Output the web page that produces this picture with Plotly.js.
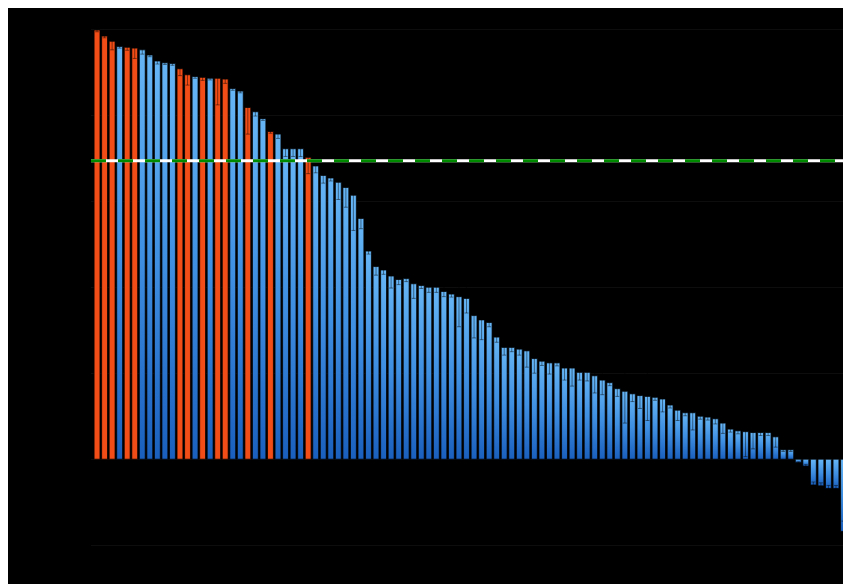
<!DOCTYPE html>
<html>
<head>
<meta charset="utf-8">
<script src="https://cdn.plot.ly/plotly-3.0.1.min.js"></script>
<style>
  html, body { margin: 0; padding: 0; background: #ffffff; overflow: hidden; }
  #chart { position: absolute; left: 8px; top: 8px; width: 835px; height: 576px; }
</style>
</head>
<body>
<svg width="0" height="0" style="position:absolute;left:0;top:0">
  <defs>
    <linearGradient id="blueGrad" x1="0" y1="0" x2="0" y2="1">
      <stop offset="0" stop-color="#66b6f6"/>
      <stop offset="0.5" stop-color="#3f8fe2"/>
      <stop offset="1" stop-color="#1a5fbd"/>
    </linearGradient>
  </defs>
</svg>
<div id="chart"></div>
<script>
// Values (arbitrary units, 10 per gridline)
const values = [
  49.9, 49.2, 48.6, 48.0, 47.9, 47.8, 47.6, 47.0, 46.3, 46.1,
  46.0, 45.4, 44.7, 44.5, 44.4, 44.3, 44.3, 44.2, 43.1, 42.8,
  40.9, 40.4, 39.6, 38.1, 37.8, 36.1, 36.1, 36.1, 35.1, 34.1,
  33.0, 32.7, 32.2, 31.6, 30.7, 28.0, 24.2, 22.4, 22.0, 21.3,
  20.9, 21.0, 20.4, 20.2, 20.0, 20.0, 19.5, 19.2, 18.9, 18.7,
  16.7, 16.2, 15.9, 14.2, 13.0, 13.0, 12.8, 12.6, 11.7, 11.4,
  11.2, 11.2, 10.6, 10.6, 10.1, 10.1, 9.7, 9.2, 8.9, 8.2,
  7.9, 7.6, 7.4, 7.3, 7.2, 7.0, 6.3, 5.7, 5.4, 5.4,
  5.0, 4.9, 4.7, 4.2, 3.5, 3.3, 3.2, 3.1, 3.1, 3.1,
  2.6, 1.1, 1.1, -0.4, -0.8, -3.0, -3.1, -3.4, -3.4, -8.4
];
const errors = [
  0.2, 0.2, 1.0, 0.2, 0.35, 1.2, 0.5, 0.2, 0.35, 0.2,
  0.2, 0.8, 1.2, 0.2, 0.35, 0.2, 3.1, 0.5, 0.2, 0.2,
  3.1, 0.5, 0.2, 0.2, 0.5, 0.9, 0.9, 0.9, 1.9, 0.8,
  0.9, 0.35, 2.0, 2.3, 4.1, 1.2, 0.35, 1.0, 0.5, 1.4,
  0.6, 0.35, 1.7, 0.35, 0.6, 0.6, 0.6, 0.35, 3.5, 1.7,
  2.6, 2.3, 0.5, 0.6, 0.9, 0.5, 0.7, 1.9, 1.7, 0.5,
  1.3, 0.35, 1.4, 2.1, 0.9, 1.0, 2.0, 1.7, 0.35, 0.9,
  3.7, 0.9, 1.5, 2.8, 0.35, 1.5, 0.35, 1.2, 0.35, 2.0,
  0.35, 0.35, 0.6, 1.2, 0.35, 0.35, 2.9, 1.9, 0.35, 0.35,
  1.2, 0.2, 0.2, 0.1, 0.2, 0.35, 0.35, 0.35, 0.35, 1.2
];
// 1 = highlighted (orange) bar
const highlight = [
  1, 1, 1, 0, 1, 1, 0, 0, 0, 0,
  0, 1, 1, 0, 1, 0, 1, 1, 0, 0,
  1, 0, 0, 1, 0, 0, 0, 0, 1, 0
].concat(new Array(70).fill(0));
const categories = values.map((v, i) => 'Item ' + (i + 1));
const threshold = 34.7;

const blueY = values.map((v, i) => highlight[i] ? null : v);
const orangeY = values.map((v, i) => highlight[i] ? v : null);
const blueErr = errors.map((e, i) => highlight[i] ? null : e);
const orangeErr = errors.map((e, i) => highlight[i] ? e : null);

const data = [
  {
    type: 'bar', x: categories, y: blueY,
    marker: { color: '#3f8fe2', line: { color: 'rgba(0,0,0,0.75)', width: 1 } },
    error_y: { type: 'data', array: blueErr, visible: true, color: 'rgba(0,0,0,0.45)', thickness: 1, width: 2 },
    hoverinfo: 'skip'
  },
  {
    type: 'bar', x: categories, y: orangeY,
    marker: { color: '#f24d16', line: { color: 'rgba(0,0,0,0.75)', width: 1 } },
    error_y: { type: 'data', array: orangeErr, visible: true, color: 'rgba(0,0,0,0.45)', thickness: 1, width: 2 },
    hoverinfo: 'skip'
  }
];

const layout = {
  width: 835, height: 576,
  margin: { l: 83, r: 0, t: 4, b: 13 },
  paper_bgcolor: '#000000',
  plot_bgcolor: '#000000',
  showlegend: false,
  barmode: 'overlay',
  bargap: 0.22,
  xaxis: {
    type: 'category', range: [-0.8, 98.93],
    showticklabels: false, showgrid: false, zeroline: false, ticks: ''
  },
  yaxis: {
    range: [-13, 52], dtick: 10, tick0: 0,
    showticklabels: false, ticks: '',
    gridcolor: '#0d0d0d', gridwidth: 1,
    zeroline: true, zerolinecolor: '#0b0b0b', zerolinewidth: 1
  },
  shapes: [
    { type: 'line', xref: 'paper', x0: 0, x1: 1, yref: 'y', y0: threshold, y1: threshold,
      line: { color: '#ffffff', width: 3 } },
    { type: 'line', xref: 'paper', x0: 0, x1: 1, yref: 'y', y0: threshold, y1: threshold,
      line: { color: '#008a00', width: 3, dash: '15px,12px' } }
  ]
};

Plotly.newPlot('chart', data, layout, { staticPlot: true, displayModeBar: false }).then(function (gd) {
  const traces = gd.querySelectorAll('.barlayer .trace.bars');
  if (traces.length) {
    traces[0].querySelectorAll('.point path').forEach(function (p) {
      p.style.fill = 'url(#blueGrad)';
    });
  }
});
</script>
</body>
</html>
